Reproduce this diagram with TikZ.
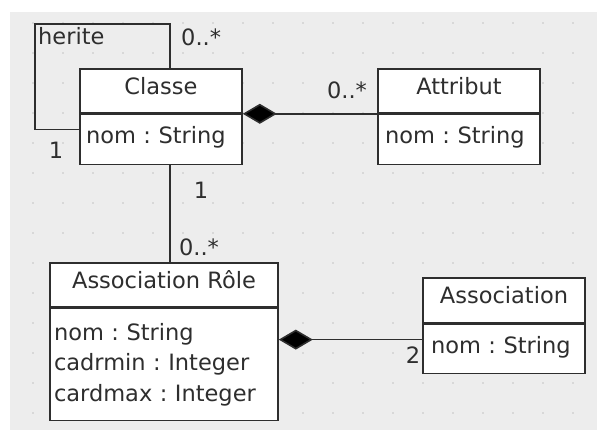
\documentclass[tikz,border=0pt]{standalone}
\usepackage{fontspec}
\setmainfont{DejaVu Sans}
\usepackage{tikz}
\usetikzlibrary{positioning,% places the body of a class below its head
arrows.meta}%            diamond tips of the compositions
\definecolor{canvas}{HTML}{EDEDED}
\definecolor{griddot}{HTML}{C4C4C4}
\definecolor{ink}{HTML}{2E2E2E}
\frenchspacing
\tikzset{every node/.style={font=\fontsize{22.5}{30.5}\selectfont,text=ink},
  classhead/.style={draw=ink,fill=white,line width=1.6pt,inner sep=0pt,
    minimum height=44pt,text height=16pt,text depth=10pt},
  classbody/.style={draw=ink,fill=white,line width=1.6pt,inner sep=0pt,
    minimum height=50pt,align=left},
  oneline/.style={text height=16pt,text depth=8pt},
  mult/.style={inner sep=1pt},
  compose/.style={draw=ink,line width=1.6pt,{Diamond[length=34pt,width=20pt,fill=black]}-}}

\begin{document}
\begin{tikzpicture}[x=1pt,y=-1pt]
\useasboundingbox (0,0) rectangle (597,437);
\fill[canvas] (10,12) rectangle (597,430);
\foreach \gx in {33,63,...,573}
  \foreach \gy in {23,53,...,413}
    \fill[griddot] (\gx,\gy) circle (0.9pt);

% classes
\node[classhead,minimum width=162pt] (ClasseHead) at (161,91) {Classe};
\node[classbody,oneline,minimum width=162pt,text width=150pt,below=0pt of ClasseHead]
  (ClasseBody) {nom : String};
\node[classhead,minimum width=162pt] (AttributHead) at (459,91) {Attribut};
\node[classbody,oneline,minimum width=162pt,text width=148pt,below=0pt of AttributHead]
  (AttributBody) {nom : String};
\node[classhead,minimum width=228pt] (RoleHead) at (164,285) {Association Rôle};
\node[classbody,minimum width=228pt,minimum height=112pt,text width=220pt,
  below=0pt of RoleHead] (RoleBody)
  {nom : String\\ cadrmin : Integer\\ cardmax : Integer};
\node[classhead,minimum width=162pt,minimum height=45pt] (AssocHead) at (504,300.5)
  {Association};
\node[classbody,oneline,minimum width=162pt,minimum height=49pt,text width=146pt,
  below=0pt of AssocHead] (AssocBody) {nom : String};

% herite loop
\coordinate (loopcorner) at (35,24);
\draw[ink,line width=1.6pt] ([xshift=9pt]ClasseHead.north) |- (loopcorner)
  |- ([yshift=10pt]ClasseBody.west);
\node[mult,anchor=west] (herite) at (37,36) {herite};
\node[mult,anchor=west] (heriteN) at (180,37) {0..*};
\node[mult] (heriteOne) at (56,150) {1};

% compositions
\draw[compose] (ClasseHead.south east) -- (AttributHead.south west);
\node[mult] (attrN) at (347,90) {0..*};
\draw[compose] ([yshift=25pt]RoleBody.east) -- ([yshift=25pt]RoleBody.east -| AssocBody.west);
\node[mult] (assocTwo) at (413,355) {2};

% role link
\draw[ink,line width=1.6pt] ([xshift=9pt]ClasseBody.south) -- ([xshift=9pt]ClasseBody.south |- RoleHead.north);
\node[mult] (roleOne) at (201,190) {1};
\node[mult] (roleN) at (199,247) {0..*};
\end{tikzpicture}
\end{document}
